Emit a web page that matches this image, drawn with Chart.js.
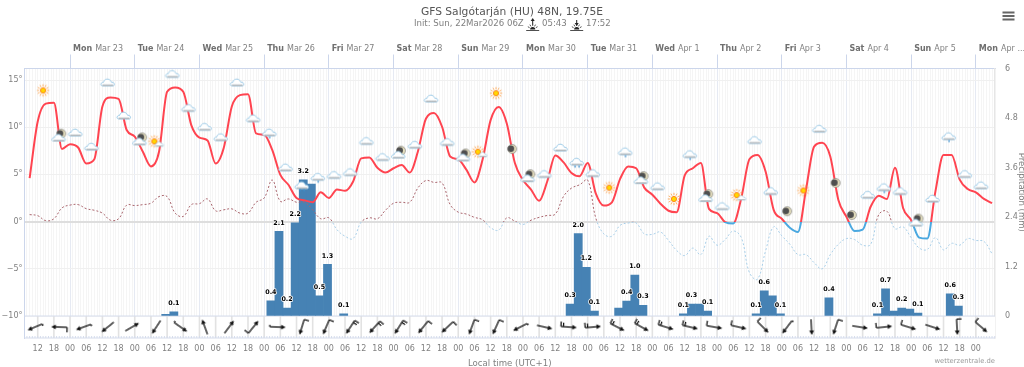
<!DOCTYPE html>
<html>
<head>
<meta charset="utf-8">
<title>GFS Salgótarján</title>
<script src="https://cdn.jsdelivr.net/npm/chart.js@4/dist/chart.umd.min.js"></script>
<style>
    html, body { margin: 0; padding: 0; background: #fff; }
    canvas { display: block; }
</style>
</head>
<body>
<canvas id="meteogram" width="1024" height="367"></canvas>
<script>
// hours are counted from Mon Mar 23 00:00 local time
const forecastHours = [-15, -12, -9, -6, -3, 0, 3, 6, 9, 12, 15, 18, 21, 24, 27, 30, 33, 36, 39, 42, 45, 48, 51, 54, 57, 60, 63, 66, 69, 72, 75, 78, 81, 84, 87, 90, 93, 96, 99, 102, 105, 108, 111, 114, 117, 120, 123, 126, 129, 132, 135, 138, 141, 144, 147, 150, 153, 156, 159, 162, 165, 168, 171, 174, 177, 180, 183, 186, 189, 192, 195, 198, 201, 204, 207, 210, 213, 216, 219, 222, 225, 228, 231, 234, 237, 240, 243, 246, 249, 252, 255, 258, 261, 264, 267, 270, 273, 276, 279, 282, 285, 288, 291, 294, 297, 300, 303, 306, 309, 312, 315, 318, 321, 324, 327, 330, 333, 336, 339, 342];

const tempValues = [4.6, 10.6, 12.5, 12.6, 7.7, 8.2, 7.85, 6.15, 6.6, 12.2, 13.15, 13.0, 9.7, 9.0, 7.4, 5.85, 7.4, 13.75, 14.2, 13.75, 10.2, 8.9, 8.6, 6.15, 7.8, 12.2, 13.4, 13.5, 9.35, 9.2, 7.6, 4.95, 3.9, 2.5, 2.25, 2.05, 3.1, 2.5, 3.4, 3.27, 4.25, 6.7, 6.8, 5.7, 5.2, 5.65, 6.0, 5.2, 7.4, 10.9, 11.5, 10.05, 6.9, 6.6, 5.5, 4.15, 6.55, 10.75, 12.15, 10.4, 6.2, 4.4, 3.4, 2.2, 4.25, 7.0, 6.3, 5.15, 4.8, 6.2, 3.0, 1.7, 2.05, 4.5, 5.85, 5.65, 3.6, 2.85, 1.9, 1.15, 1.0, 4.9, 5.65, 6.2, 1.35, 0.9, -0.05, -0.2, 2.5, 6.6, 7.05, 5.3, 1.25, 0.3, -0.65, -1.1, 3.4, 7.95, 8.35, 6.9, 2.3, 0.5, -1.0, -0.85, 1.6, 2.75, 2.4, 5.7, 1.45, 0.15, -1.7, -1.8, 3.2, 7.05, 7.05, 4.45, 3.45, 3.1, 2.4, 1.95];

const upperTempValues = [0.74, 0.63, 0.1, 0.3, 1.45, 1.75, 1.8, 1.37, 1.2, 0.9, 0.15, 0.3, 1.75, 1.7, 1.8, 1.95, 2.65, 2.65, 0.9, 0.55, 1.8, 1.9, 2.4, 1.15, 1.25, 1.35, 0.9, 0.9, 2.05, 2.5, 4.4, 2.15, 2.4, 2.05, 2.05, 1.25, 0.3, 0.4, -0.85, -1.55, -1.8, -0.05, 0.4, 0.3, 1.2, 1.95, 2.05, 2.05, 3.55, 4.35, 4.15, 4.1, 1.8, 1.0, 0.8, 0.45, 0.2, -0.65, -0.9, 0.4, 0.05, -0.3, 0.15, 0.45, 0.65, 0.8, 2.65, 3.55, 3.9, 4.4, 0.4, -1.3, -1.55, -0.4, -0.15, -0.15, -1.3, -1.35, -1.1, -2.0, -3.05, -3.6, -2.8, -3.5, -1.55, -2.5, -1.9, -1.0, -1.7, -5.4, -6.1, -3.1, -0.55, -1.5, -2.4, -3.5, -3.5, -4.35, -5.0, -3.5, -2.4, -1.8, -1.9, -2.5, -2.4, 0.75, 1.1, -0.75, -0.55, -1.7, -2.8, -2.95, -1.7, -3.0, -2.3, -2.5, -1.8, -2.0, -2.1, -3.4];

const rainHours = [35.5, 38.5, 74.5, 77.5, 80.5, 83.5, 86.5, 89.5, 92.5, 95.5, 101.5, 185.5, 188.5, 191.5, 194.5, 203.5, 206.5, 209.5, 212.5, 227.5, 230.5, 233.5, 236.5, 254.5, 257.5, 260.5, 263.5, 281.5, 299.5, 302.5, 305.5, 308.5, 311.5, 314.5, 326.5, 329.5];
const rainValues = [0.04, 0.1, 0.37, 2.05, 0.19, 2.26, 3.3, 3.2, 0.49, 1.25, 0.05, 0.29, 2.0, 1.18, 0.12, 0.19, 0.36, 0.99, 0.26, 0.05, 0.29, 0.29, 0.12, 0.05, 0.61, 0.49, 0.05, 0.44, 0.05, 0.66, 0.12, 0.19, 0.17, 0.07, 0.54, 0.24];
const rainLabels = ['', '0.1', '0.4', '2.1', '0.2', '2.2', '3.2', '', '0.5', '1.3', '0.1', '0.3', '2.0', '1.2', '0.1', '', '0.4', '1.0', '0.3', '0.1', '0.3', '', '0.1', '0.1', '0.6', '', '0.1', '0.4', '0.1', '0.7', '', '0.2', '', '0.1', '0.6', '0.3'];

const iconHours = [-10, -4, 2, 8, 14, 20, 26, 32, 38, 44, 50, 56, 62, 68, 74, 80, 86, 92, 98, 104, 110, 116, 122, 128, 134, 140, 146, 152, 158, 164, 170, 176, 182, 188, 194, 200, 206, 212, 218, 224, 230, 236, 242, 248, 254, 260, 266, 272, 278, 284, 290, 296, 302, 308, 314, 320, 326, 332, 338];
const iconLevels = [13.9, 9.0, 9.4, 7.9, 14.7, 11.2, 8.6, 8.4, 15.6, 12.0, 10.0, 8.9, 14.7, 10.9, 9.3, 5.7, 3.7, 4.6, 4.9, 5.2, 8.5, 6.8, 7.2, 8.1, 13.0, 8.4, 6.9, 7.3, 13.6, 7.7, 4.7, 5.0, 7.8, 6.2, 5.1, 3.6, 7.3, 4.5, 3.7, 2.4, 7.0, 2.6, 1.6, 2.7, 8.6, 3.2, 1.1, 3.3, 9.8, 4.1, 0.7, 2.8, 3.5, 3.2, 0, 2.4, 8.9, 5.0, 3.8];
const iconKinds = ['sun', 'moonCloud', 'cloud', 'cloud', 'cloud', 'cloud', 'moonCloud', 'sunCloud', 'cloud', 'cloud', 'cloud', 'cloud', 'cloud', 'cloud', 'drizzle', 'cloud', 'rain', 'drizzle', 'cloud', 'cloud', 'cloud', 'cloud', 'moonCloud', 'cloud', 'cloud', 'cloud', 'moonCloud', 'sunCloud', 'sun', 'moon', 'moonCloud', 'cloud', 'cloud', 'rain', 'cloud', 'sun', 'drizzle', 'moonCloud', 'cloud', 'sun', 'drizzle', 'moonCloud', 'cloud', 'sunCloud', 'cloud', 'cloud', 'moon', 'sun', 'cloud', 'moon', 'moon', 'cloud', 'drizzle', 'cloud', 'moonCloud', 'cloud', 'drizzle', 'cloud', 'cloud'];

const windHours = [-13, -4, 5, 14, 23, 32, 41, 50, 59, 68, 77, 86, 95, 104, 113, 122, 131, 140, 149, 158, 167, 176, 185, 194, 203, 212, 221, 230, 239, 248, 257, 266, 275, 284, 293, 302, 311, 320, 329, 338];
const windHeading = [247, 272, 250, 231, 60, 213, 125, 340, 37, 39, 92, 197, 203, 213, 222, 212, 219, 227, 200, 204, 243, 103, 94, 85, 117, 119, 107, 103, 100, 103, 135, 217, 177, 198, 99, 84, 107, 108, 177, 131];
const windBarbs = [1, 2, 1, 0, 0, 0, 1, 0, 0, 2, 1, 2, 2, 3, 3, 3, 2, 2, 2, 2, 1, 0, 3, 3, 3, 3, 3, 3, 2, 2, 2, 1, 0, 2, 0, 2, 2, 0, 2, 2];

const dayHours = [0, 24, 48, 72, 96, 120, 144, 168, 192, 216, 240, 264, 288, 312, 336];
const dayNames = ['Mon', 'Tue', 'Wed', 'Thu', 'Fri', 'Sat', 'Sun', 'Mon', 'Tue', 'Wed', 'Thu', 'Fri', 'Sat', 'Sun', 'Mon'];
const dayDates = ['Mar 23', 'Mar 24', 'Mar 25', 'Mar 26', 'Mar 27', 'Mar 28', 'Mar 29', 'Mar 30', 'Mar 31', 'Apr 1', 'Apr 2', 'Apr 3', 'Apr 4', 'Apr 5', 'Apr ...'];

const clockLabels = ['00', '06', '12', '18'];
const tempTicks = [-10, -5, 0, 5, 10, 15];
const rainTicks = [0, 1.2, 2.4, 3.6, 4.8, 6];

const FONT = '"DejaVu Sans", sans-serif';
const WIND_ROW = -11.17;

function makeCanvas(w, h, paint) {
    const c = document.createElement('canvas');
    c.width = w;
    c.height = h;
    paint(c.getContext('2d'));
    return c;
}

function paintCloud(g, cx, cy, k) {
    g.save();
    g.translate(cx, cy);
    g.scale(k, k);
    g.beginPath();
    g.moveTo(-5, 3);
    g.bezierCurveTo(-8, 3, -7.5, -0.5, -4.5, -0.5);
    g.bezierCurveTo(-4, -3, -1.5, -4, 0, -3.8);
    g.bezierCurveTo(2, -3.6, 3, -2, 3.4, -0.8);
    g.bezierCurveTo(7, -1, 7.5, 3, 5, 3);
    g.closePath();
    g.fillStyle = '#fff';
    g.fill();
    g.strokeStyle = '#93c5e4';
    g.lineWidth = 0.9;
    g.stroke();
    g.fillStyle = '#b4bbc0';
    g.fillRect(-5.4, 1.6, 10.8, 1.6);
    g.restore();
}

function paintSun(g, cx, cy, r) {
    g.strokeStyle = '#ff8c1f';
    g.lineWidth = 0.7;
    for (let a = 0; a < 12; a++) {
        const t = a * Math.PI / 6;
        g.beginPath();
        g.moveTo(cx + Math.cos(t) * r * 0.62, cy + Math.sin(t) * r * 0.62);
        g.lineTo(cx + Math.cos(t) * r, cy + Math.sin(t) * r);
        g.stroke();
    }
    g.beginPath();
    g.arc(cx, cy, r * 0.42, 0, Math.PI * 2);
    g.fillStyle = '#ffd800';
    g.fill();
    g.strokeStyle = '#ff7a10';
    g.lineWidth = 0.9;
    g.stroke();
}

function paintMoon(g, cx, cy, r) {
    g.beginPath();
    g.arc(cx, cy, r, 0, Math.PI * 2);
    g.fillStyle = '#e2dcbc';
    g.fill();
    g.strokeStyle = '#777';
    g.lineWidth = 0.6;
    g.stroke();
    g.beginPath();
    g.arc(cx - r * 0.28, cy - r * 0.05, r * 0.72, 0, Math.PI * 2);
    g.fillStyle = '#4f4f4f';
    g.fill();
}

function paintDrops(g, cx, cy, n) {
    g.fillStyle = '#3b8fd0';
    for (let i = 0; i < n; i++) {
        g.fillRect(cx - (n - 1) * 2 + i * 4 - 0.5, cy, 1.2, 2);
    }
}

const weatherIcons = {
    sun: makeCanvas(18, 18, g => paintSun(g, 9, 9, 6.2)),
    moon: makeCanvas(14, 14, g => paintMoon(g, 7, 7, 4.5)),
    cloud: makeCanvas(18, 12, g => paintCloud(g, 9, 6, 1)),
    drizzle: makeCanvas(18, 14, g => { paintCloud(g, 9, 6, 1); paintDrops(g, 9, 9.5, 1); }),
    rain: makeCanvas(18, 14, g => { paintCloud(g, 9, 6, 1); paintDrops(g, 9, 9.5, 2); }),
    moonCloud: makeCanvas(18, 18, g => { paintMoon(g, 11, 6, 4.5); paintCloud(g, 8.5, 10.5, 1); }),
    sunCloud: makeCanvas(20, 18, g => { paintSun(g, 8, 8, 6.2); paintCloud(g, 13, 11, 0.65); })
};

// arrows point up here, the dataset rotates them to the heading
const windArrows = [0, 1, 2, 3].map(kind => makeCanvas(24, 24, g => {
    g.strokeStyle = '#111';
    g.fillStyle = '#111';
    g.lineWidth = 1.3;
    g.beginPath();
    g.moveTo(12, 19.8);
    g.lineTo(12, 7);
    if (kind === 1) { g.moveTo(12, 19.8); g.lineTo(10, 19.8); }
    if (kind >= 2) { g.moveTo(12, 19.8); g.lineTo(7, 19.8); }
    if (kind === 3) { g.moveTo(12, 17.4); g.lineTo(8, 17.4); }
    g.stroke();
    g.beginPath();
    g.moveTo(12, 4);
    g.lineTo(14.4, 8.6);
    g.lineTo(9.6, 8.6);
    g.closePath();
    g.fill();
}));

function zoneColor(above, below) {
    return ctx => {
        const { chart } = ctx;
        const area = chart.chartArea;
        if (!area) return above;
        const stop = (chart.scales.yTemp.getPixelForValue(0) - area.top) / (area.bottom - area.top);
        const grad = chart.ctx.createLinearGradient(0, area.top, 0, area.bottom);
        grad.addColorStop(0, above);
        grad.addColorStop(stop, above);
        grad.addColorStop(stop, below);
        grad.addColorStop(1, below);
        return grad;
    };
}

function paintSunMark(ctx, cx, arrowUp) {
    const base = 30.5;
    ctx.save();
    ctx.strokeStyle = '#222';
    ctx.fillStyle = '#222';
    ctx.lineWidth = 0.8;
    ctx.beginPath();
    ctx.moveTo(cx - 6.5, base);
    ctx.lineTo(cx + 6.5, base);
    ctx.stroke();
    ctx.beginPath();
    ctx.arc(cx, base - 1, 2.6, Math.PI, 0);
    ctx.fill();
    for (let a = 1; a < 6; a++) {
        const t = Math.PI + a * Math.PI / 6;
        ctx.beginPath();
        ctx.moveTo(cx + Math.cos(t) * 3.6, base - 1 + Math.sin(t) * 3.6);
        ctx.lineTo(cx + Math.cos(t) * 5.6, base - 1 + Math.sin(t) * 5.6);
        ctx.stroke();
    }
    ctx.lineWidth = 1;
    ctx.beginPath();
    ctx.moveTo(cx, 24.5);
    ctx.lineTo(cx, 20);
    ctx.stroke();
    ctx.beginPath();
    if (arrowUp) {
        ctx.moveTo(cx, 18);
        ctx.lineTo(cx + 2, 21);
        ctx.lineTo(cx - 2, 21);
    } else {
        ctx.moveTo(cx, 26);
        ctx.lineTo(cx + 2, 23);
        ctx.lineTo(cx - 2, 23);
    }
    ctx.closePath();
    ctx.fill();
    ctx.restore();
}

const windStripPlugin = {
    id: 'windStrip',
    beforeDatasetsDraw(chart) {
        const { ctx, chartArea, scales } = chart;
        const top = scales.yTemp.getPixelForValue(-10);
        ctx.save();
        ctx.fillStyle = '#fff';
        ctx.fillRect(chartArea.left + 1, top + 0.5, chartArea.right - chartArea.left - 1, chartArea.bottom - top);
        ctx.strokeStyle = '#e2e2e2';
        ctx.lineWidth = 1.6;
        scales.x.ticks.forEach(t => {
            const x = scales.x.getPixelForValue(t.value);
            ctx.beginPath();
            ctx.moveTo(x, top);
            ctx.lineTo(x, chartArea.bottom);
            ctx.stroke();
        });
        ctx.lineWidth = 1;
        ctx.strokeStyle = '#d5dcec';
        ctx.beginPath();
        ctx.moveTo(chartArea.left, top);
        ctx.lineTo(chartArea.right, top);
        ctx.moveTo(chartArea.left, chartArea.bottom);
        ctx.lineTo(chartArea.right, chartArea.bottom);
        ctx.stroke();
        scales.xMinor.ticks.forEach(t => {
            const x = scales.x.getPixelForValue(t.value);
            ctx.beginPath();
            ctx.moveTo(x, chartArea.bottom - 2);
            ctx.lineTo(x, chartArea.bottom);
            ctx.stroke();
        });
        ctx.restore();
    }
};

const textPlugin = {
    id: 'chartText',
    afterDatasetsDraw(chart) {
        const { ctx } = chart;
        ctx.save();

        // values over the rain bars
        const bars = chart.getDatasetMeta(0).data;
        ctx.font = 'bold 6.4px ' + FONT;
        ctx.textAlign = 'center';
        ctx.textBaseline = 'middle';
        ctx.lineWidth = 1.5;
        ctx.lineJoin = 'round';
        bars.forEach((bar, i) => {
            if (!rainLabels[i]) return;
            ctx.strokeStyle = '#fff';
            ctx.strokeText(rainLabels[i], bar.x, bar.y - 8.5);
            ctx.fillStyle = '#000';
            ctx.fillText(rainLabels[i], bar.x, bar.y - 8.5);
        });
        ctx.restore();
    },
    afterDraw(chart) {
        const { ctx, chartArea, scales } = chart;
        ctx.save();
        ctx.textBaseline = 'middle';

        // day names above the plot
        dayHours.forEach((h, i) => {
            let x = scales.x.getPixelForValue(h) + 3;
            ctx.textAlign = 'left';
            ctx.font = 'bold 8px ' + FONT;
            ctx.fillStyle = '#707070';
            ctx.fillText(dayNames[i], x, 49);
            x += ctx.measureText(dayNames[i]).width + 3;
            ctx.font = '8px ' + FONT;
            ctx.fillStyle = '#808080';
            ctx.fillText(dayDates[i], x, 49);
        });

        // init time line with the sunrise and sunset marks
        ctx.font = '8.6px ' + FONT;
        ctx.fillStyle = '#808080';
        ctx.textAlign = 'left';
        ctx.fillText('Init: Sun, 22Mar2026 06Z', 414, 23.5);
        ctx.fillText('05:43', 542, 23.5);
        ctx.fillText('17:52', 586, 23.5);
        paintSunMark(ctx, 532.7, true);
        paintSunMark(ctx, 576.7, false);

        // axis title on the right, turned like the reference
        ctx.save();
        ctx.translate(1021.5, (scales.yRain.getPixelForValue(0) + chartArea.top) / 2);
        ctx.rotate(Math.PI / 2);
        ctx.textAlign = 'center';
        ctx.font = '8.5px ' + FONT;
        ctx.fillStyle = '#808080';
        ctx.fillText('Precipitation (mm)', 0, 0);
        ctx.restore();

        ctx.textAlign = 'right';
        ctx.font = '6.8px ' + FONT;
        ctx.fillStyle = '#999';
        ctx.fillText('wetterzentrale.de', chartArea.right, 361);

        // menu button
        ctx.fillStyle = '#666';
        [11.5, 15, 18.5].forEach(y => ctx.fillRect(1002.5, y, 12, 2));
        ctx.restore();
    }
};

new Chart(document.getElementById('meteogram'), {
    type: 'line',
    plugins: [windStripPlugin, textPlugin],
    data: {
        datasets: [
            {
                type: 'bar',
                data: rainHours.map((h, i) => ({ x: h, y: rainValues[i] })),
                xAxisID: 'x',
                yAxisID: 'yRain',
                backgroundColor: '#4682b4',
                barThickness: 8.1,
                grouped: false,
                order: 4
            },
            {
                data: forecastHours.map((h, i) => ({ x: h, y: upperTempValues[i] })),
                xAxisID: 'x',
                yAxisID: 'yTemp',
                borderColor: zoneColor('#a9646c', '#a8cfe9'),
                borderWidth: 1,
                borderDash: [2, 2],
                pointRadius: 0,
                tension: 0.4,
                order: 3
            },
            {
                data: forecastHours.map((h, i) => ({ x: h, y: tempValues[i] })),
                xAxisID: 'x',
                yAxisID: 'yTemp',
                borderColor: zoneColor('#ff4450', '#4aa8e0'),
                borderWidth: 2,
                pointRadius: 0,
                cubicInterpolationMode: 'monotone',
                order: 2
            },
            {
                type: 'scatter',
                data: iconHours.map((h, i) => ({ x: h, y: iconLevels[i] })),
                xAxisID: 'x',
                yAxisID: 'yTemp',
                pointStyle: ctx => weatherIcons[iconKinds[ctx.dataIndex]],
                pointRadius: 8,
                order: 1
            },
            {
                type: 'scatter',
                data: windHours.map(h => ({ x: h, y: WIND_ROW })),
                xAxisID: 'x',
                yAxisID: 'yTemp',
                pointStyle: ctx => windArrows[windBarbs[ctx.dataIndex]],
                rotation: ctx => windHeading[ctx.dataIndex],
                pointRadius: 8,
                order: 0
            }
        ]
    },
    options: {
        responsive: false,
        animation: false,
        events: [],
        layout: { padding: 0 },
        plugins: {
            legend: { display: false },
            tooltip: { enabled: false },
            title: {
                display: true,
                text: 'GFS Salgótarján (HU) 48N, 19.75E',
                color: '#555',
                font: { family: FONT, size: 10.7, weight: 'normal' },
                padding: { top: 6, bottom: 0 }
            }
        },
        scales: {
            x: {
                type: 'linear',
                position: 'bottom',
                offset: false,
                min: -16.9,
                max: 343.1,
                afterFit: s => { s.height = 29; },
                afterBuildTicks: s => {
                    s.ticks = forecastHours.filter(h => h % 6 === 0 && h >= -12 && h <= 336).map(h => ({ value: h }));
                },
                grid: { color: '#eeeeee', offset: false, drawTicks: false },
                border: { display: false },
                ticks: {
                    autoSkip: false,
                    maxRotation: 0,
                    padding: 6,
                    color: '#808080',
                    font: { family: FONT, size: 8 },
                    callback: v => clockLabels[((v % 24) + 24) % 24 / 6]
                },
                title: {
                    display: true,
                    text: 'Local time (UTC+1)',
                    color: '#808080',
                    font: { family: FONT, size: 8.6 },
                    padding: { top: 0, bottom: -2 }
                }
            },
            xMinor: {
                type: 'linear',
                position: 'bottom',
                min: -16.9,
                max: 343.1,
                afterFit: s => { s.height = 0; },
                afterBuildTicks: s => {
                    const ticks = [];
                    for (let h = -16; h <= 343; h++) ticks.push({ value: h });
                    s.ticks = ticks;
                },
                grid: { color: '#f5f5f5', drawTicks: false },
                border: { display: false },
                ticks: { display: false }
            },
            xDays: {
                type: 'linear',
                position: 'top',
                min: -16.9,
                max: 343.1,
                afterFit: s => { s.height = 68.5 - 18.84; },
                afterBuildTicks: s => { s.ticks = dayHours.map(h => ({ value: h })); },
                grid: { color: '#e6eaf3', tickColor: '#ccd6eb', tickLength: 14 },
                border: { color: '#ccd6eb' },
                ticks: { display: false }
            },
            yTemp: {
                type: 'linear',
                position: 'left',
                min: -12.33,
                max: 16.22,
                afterFit: s => { s.width = 24.5; },
                afterBuildTicks: s => { s.ticks = tempTicks.map(v => ({ value: v })); },
                grid: {
                    drawTicks: false,
                    color: c => (c.tick.value === 0 ? '#dedede' : '#f0f0f0'),
                    lineWidth: c => (c.tick.value === 0 ? 2 : 1)
                },
                border: { color: '#ccd6eb' },
                ticks: {
                    padding: 2,
                    color: '#808080',
                    font: { family: FONT, size: 8 },
                    callback: v => String(v).replace('-', '−') + '°'
                }
            },
            yRain: {
                type: 'linear',
                position: 'right',
                min: -0.533,
                max: 6,
                afterFit: s => { s.width = 29; },
                afterBuildTicks: s => { s.ticks = rainTicks.map(v => ({ value: v })); },
                grid: { drawOnChartArea: false, drawTicks: false },
                border: { color: '#e6e6e6', width: 1.5 },
                ticks: {
                    padding: 10,
                    color: '#808080',
                    font: { family: FONT, size: 8 }
                }
            }
        }
    }
});
</script>
</body>
</html>
